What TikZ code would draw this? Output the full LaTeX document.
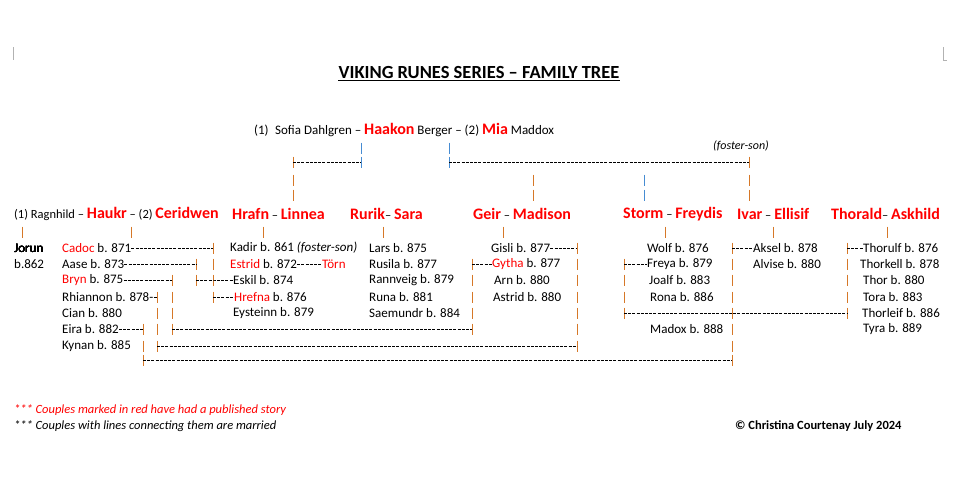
\documentclass[tikz,border=0pt]{standalone}
\usepackage{fontspec}
\setmainfont{Carlito}
\usepackage{tikz}

\definecolor{orng}{RGB}{214,120,40}
\definecolor{blu}{RGB}{70,140,210}
\newcommand\nm[1]{{\color{red}\fontsize{16}{18}\selectfont\bfseries #1}}
\newcommand\rd[1]{{\color{red}#1}}
\newcommand\vbars[3]{\foreach \yy in {#3} \draw[#1,tickline] (#2,\yy-5.5) -- (#2,\yy+5.5);}

\begin{document}
\begin{tikzpicture}[x=1pt,y=-1pt,
  kid/.style={anchor=west,inner sep=0pt,font=\fontsize{13}{15}\selectfont},
  couple/.style={anchor=west,inner sep=0pt,font=\fontsize{12.5}{15}\selectfont},
  link/.style={line width=0.5pt,dash pattern=on 3pt off 1.2pt},
  tickline/.style={line width=1pt}]
\useasboundingbox (0,0) rectangle (960,480);
%page marks
\draw [gray!60,line width=0.4pt] (13,47) -- (13,60);
\draw [gray!60,line width=0.4pt] (943,47) -- (943,60) -- (947,60);
%title
\node [inner sep=0pt,font=\fontsize{18.5}{20}\selectfont\bfseries] (title) at (479,72) {VIKING RUNES SERIES -- FAMILY TREE};
\draw [line width=0.9pt] ([yshift=-2pt]title.base west) -- ([yshift=-2pt]title.base east);
%parents
\node [couple,font=\fontsize{13}{15}\selectfont] (haakon) at (254,130) {(1)\enspace Sofia Dahlgren -- \nm{Haakon} Berger -- (2) \nm{Mia} Maddox};
\node [couple,font=\fontsize{12}{14}\selectfont\itshape] (foster) at (713,146) {(foster-son)};
%lines from parents
\vbars{blu}{361}{148,162}
\vbars{blu}{449}{148,162}
\vbars{orng}{293}{162,180,195}
\vbars{orng}{749}{162,180,195}
\vbars{orng}{533}{180,195}
\vbars{blu}{644}{180,195}
\draw [link] (293,162) -- (361,162);
\draw [link] (449,162) -- (749,162);
%couples
\node [couple] (haukr) at (14,214) {(1) Ragnhild -- \nm{Haukr} -- (2) \nm{Ceridwen}};
\node [couple] (hrafn) at (232,214) {\nm{Hrafn} -- \nm{Linnea}};
\node [couple] (rurik) at (350,214) {\nm{Rurik}-- \nm{Sara}};
\node [couple] (geir) at (473,214) {\nm{Geir} -- \nm{Madison}};
\node [couple] (storm) at (623,214) {\nm{Storm} -- \nm{Freydis}};
\node [couple] (ivar) at (737,214) {\nm{Ivar} -- \nm{Ellisif}};
\node [couple] (thorald) at (831,214) {\nm{Thorald}-- \nm{Askhild}};
\vbars{orng}{22}{232}
\foreach \xx in {131,263,383,503,665,773,887} \vbars{orng}{\xx}{232}
%children of Haukr
\node [kid] (jorun) at (14,248) {Jorun};
\node [kid] (jorunb) at (14,264) {b.862};
\node [kid] (cadoc) at (62,248) {\rd{Cadoc} b. 871};
\node [kid] (aase) at (62,264) {Aase b. 873};
\node [kid] (bryn) at (62,280) {\rd{Bryn} b. 875};
\node [kid] (rhiannon) at (62,297) {Rhiannon b. 878-};
\node [kid] (cian) at (62,313) {Cian b. 880};
\node [kid] (eira) at (62,329) {Eira b. 882};
\node [kid] (kynan) at (62,346) {Kynan b. 885};
%children of Hrafn
\node [kid] (kadir) at (230,248) {Kadir b. 861 \textit{(foster-son)}};
\node [kid] (estrid) at (230,264) {\rd{Estrid} b. 872};
\node [kid] (torn) at (322,264) {\rd{Törn}};
\node [kid] (eskil) at (233,280) {Eskil b. 874};
\node [kid] (hrefna) at (234,297) {\rd{Hrefna} b. 876};
\node [kid] (eysteinn) at (233,313) {Eysteinn b. 879};
%children of Rurik
\node [kid] (lars) at (369,248) {Lars b. 875};
\node [kid] (rusila) at (369,264) {Rusila b. 877};
\node [kid] (rannveig) at (369,280) {Rannveig b. 879};
\node [kid] (runa) at (369,297) {Runa b. 881};
\node [kid] (saemundr) at (369,313) {Saemundr b. 884};
%children of Geir
\node [kid] (gisli) at (491,248) {Gisli b. 877};
\node [kid] (gytha) at (492,264) {\rd{Gytha} b. 877};
\node [kid] (arn) at (494,280) {Arn b. 880};
\node [kid] (astrid) at (493,297) {Astrid b. 880};
%children of Storm
\node [kid] (wolf) at (647,248) {Wolf b. 876};
\node [kid] (freya) at (647,264) {Freya b. 879};
\node [kid] (joalf) at (649,280) {Joalf b. 883};
\node [kid] (rona) at (650,297) {Rona b. 886};
\node [kid] (madox) at (650,329) {Madox b. 888};
%children of Ivar
\node [kid] (aksel) at (753,248) {Aksel b. 878};
\node [kid] (alvise) at (753,264) {Alvise b. 880};
%children of Thorald
\node [kid] (thorulf) at (863,248) {Thorulf b. 876};
\node [kid] (thorkell) at (860,264) {Thorkell b. 878};
\node [kid] (thor) at (863,280) {Thor b. 880};
\node [kid] (tora) at (863,297) {Tora b. 883};
\node [kid] (thorleif) at (862,313) {Thorleif b. 886};
\node [kid] (tyra) at (863,329) {Tyra b. 889};
%marriage columns
\vbars{orng}{213}{248,264,280,297}
\vbars{orng}{196}{264,280}
\vbars{orng}{172}{280,297,313,329}
\vbars{orng}{157}{297,313,329,346}
\vbars{orng}{143}{329,346,360}
\vbars{orng}{472}{264,280,297,313,329}
\vbars{orng}{577}{248,264,280,297,313,329,346}
\vbars{orng}{624}{264,280,297,313}
\vbars{orng}{732}{248,264,280,297,313,329,346,360}
\vbars{orng}{847}{248,264,280,297,313}
%marriage lines
\draw [link] (cadoc.east) -- (213,248);
\draw [link] (aase.east) -- (196,264);
\draw [link] (bryn.east) -- (172,280);
\draw [link] (196,280) -- (213,280) -- (eskil.west);
\draw [link] (rhiannon.east) -- (157,297);
\draw [link] (213,297) -- (hrefna.west);
\draw [link] (eira.east) -- (143,329);
\draw [link] (172,329) -- (472,329);
\draw [link] (157,346) -- (577,346);
\draw [link] (143,360) -- (732,360);
\draw [link] (estrid.east) -- (torn.west);
\draw [link] (472,264) -- (gytha.west);
\draw [link] (gisli.east) -- (577,248);
\draw [link] (624,264) -- (freya.west);
\draw [link] (624,313) -- (847,313);
\draw [link] (732,248) -- (aksel.west);
\draw [link] (847,248) -- (thorulf.west);
%notes
\node [kid,red,font=\fontsize{12.5}{14}\selectfont\itshape] (note1) at (14,410) {*** Couples marked in red have had a published story};
\node [kid,font=\fontsize{12.5}{14}\selectfont\itshape] (note2) at (14,426) {*** Couples with lines connecting them are married};
\node [kid,font=\fontsize{12.5}{14}\selectfont\bfseries] (copy) at (735,426) {© Christina Courtenay July 2024};
\end{tikzpicture}
\end{document}
